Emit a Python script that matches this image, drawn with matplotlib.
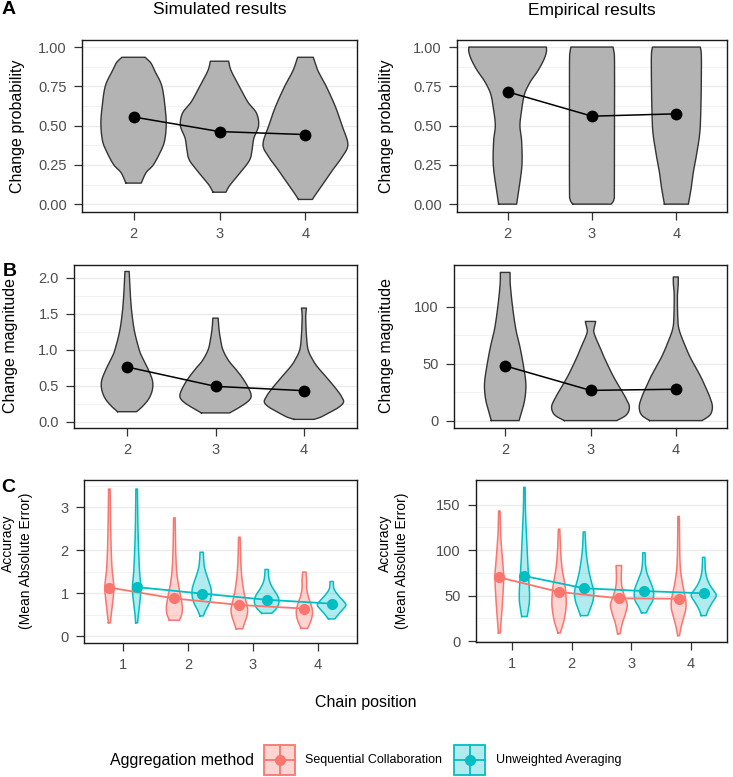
import numpy as np
import matplotlib
matplotlib.use('Agg')
import matplotlib.pyplot as plt
from matplotlib.patches import Rectangle

plt.rcParams['font.family'] = ['Liberation Sans', 'DejaVu Sans']

# ---- data ----
pos_ab = [2, 3, 4]
pos_c = [1, 2, 3, 4]
dodge = 0.21

# A: change probability
sim_prob_mean = [0.555, 0.462, 0.443]
sim_prob_y = [[0.134, 0.20, 0.25, 0.33, 0.40, 0.50, 0.60, 0.75, 0.85, 0.90, 0.935],
              [0.076, 0.12, 0.20, 0.28, 0.35, 0.42, 0.50, 0.58, 0.65, 0.75, 0.85, 0.91],
              [0.03, 0.06, 0.12, 0.22, 0.30, 0.38, 0.50, 0.62, 0.75, 0.85, 0.935]]
sim_prob_w = [[0.09, 0.145, 0.23, 0.31, 0.36, 0.38, 0.37, 0.33, 0.245, 0.20, 0.136],
              [0.075, 0.12, 0.24, 0.35, 0.38, 0.40, 0.455, 0.43, 0.33, 0.23, 0.135, 0.107],
              [0.081, 0.116, 0.194, 0.32, 0.426, 0.494, 0.426, 0.349, 0.242, 0.145, 0.091]]

emp_prob_mean = [0.715, 0.56, 0.575]
emp_prob_y = [[0, 0.1, 0.25, 0.4, 0.5, 0.6, 0.7, 0.78, 0.85, 0.92, 0.97, 1.0],
              [0, 0.03, 0.1, 0.5, 0.9, 0.97, 1.0],
              [0, 0.1, 0.2, 0.3, 0.45, 0.6, 0.8, 0.95, 1.0]]
emp_prob_w = [[0.107, 0.135, 0.17, 0.166, 0.146, 0.166, 0.2, 0.27, 0.36, 0.43, 0.46, 0.46],
              [0.228, 0.26, 0.267, 0.267, 0.267, 0.26, 0.25],
              [0.142, 0.175, 0.2, 0.234, 0.277, 0.29, 0.296, 0.296, 0.283]]

# B: change magnitude
sim_mag_mean = [0.76, 0.49, 0.43]
sim_mag_y = [[0.137, 0.2, 0.3, 0.4, 0.5, 0.6, 0.75, 0.9, 1.0, 1.25, 1.5, 1.75, 2.0, 2.09],
             [0.12, 0.2, 0.28, 0.35, 0.45, 0.6, 0.75, 0.85, 1.0, 1.15, 1.3, 1.44],
             [0.03, 0.06, 0.12, 0.2, 0.27, 0.35, 0.45, 0.6, 0.75, 0.85, 1.0, 1.2, 1.4, 1.5, 1.58]]
sim_mag_w = [[0.107, 0.166, 0.237, 0.277, 0.292, 0.281, 0.23, 0.169, 0.137, 0.085, 0.055, 0.038, 0.028, 0.024],
             [0.16, 0.273, 0.367, 0.403, 0.38, 0.309, 0.215, 0.147, 0.083, 0.056, 0.038, 0.03],
             [0.113, 0.188, 0.282, 0.395, 0.448, 0.424, 0.367, 0.266, 0.16, 0.104, 0.047, 0.028, 0.021, 0.021, 0.028]]

emp_mag_mean = [48, 26.5, 27.5]
emp_mag_y = [[0, 5, 15, 25, 35, 50, 65, 80, 100, 120, 130],
             [0, 5, 12, 20, 30, 40, 55, 65, 72, 78, 82, 87],
             [0, 5, 12, 20, 30, 40, 55, 68, 80, 90, 110, 120, 126]]
emp_mag_w = [[0.163, 0.182, 0.22, 0.24, 0.24, 0.21, 0.172, 0.125, 0.086, 0.059, 0.057],
             [0.307, 0.421, 0.456, 0.412, 0.335, 0.259, 0.163, 0.107, 0.065, 0.038, 0.046, 0.061],
             [0.307, 0.402, 0.429, 0.402, 0.345, 0.282, 0.172, 0.096, 0.038, 0.023, 0.019, 0.029, 0.029]]

# C: accuracy (sequential collaboration / unweighted averaging)
sim_seq_mean = [1.13, 0.875, 0.725, 0.64]
sim_avg_mean = [1.14, 0.99, 0.845, 0.755]
sim_seq_y = [[0.31, 0.45, 0.77, 1.13, 1.52, 1.93, 2.5, 3.0, 3.42],
             [0.37, 0.5, 0.65, 0.8, 1.0, 1.2, 1.5, 2.0, 2.75],
             [0.17, 0.3, 0.45, 0.6, 0.75, 0.9, 1.1, 1.4, 1.8, 2.3],
             [0.18, 0.3, 0.45, 0.6, 0.75, 0.9, 1.1, 1.3, 1.49]]
sim_seq_w = [[0.015, 0.026, 0.05, 0.07, 0.044, 0.03, 0.02, 0.015, 0.012],
             [0.077, 0.113, 0.123, 0.113, 0.087, 0.062, 0.036, 0.02, 0.012],
             [0.05, 0.08, 0.113, 0.128, 0.113, 0.087, 0.062, 0.036, 0.02, 0.012],
             [0.05, 0.087, 0.118, 0.123, 0.1, 0.064, 0.036, 0.036, 0.025]]
sim_avg_y = [[0.31, 0.5, 0.8, 1.13, 1.5, 2.0, 2.5, 3.0, 3.42],
             [0.47, 0.6, 0.75, 0.9, 1.05, 1.2, 1.4, 1.6, 1.8, 1.95],
             [0.53, 0.65, 0.8, 0.95, 1.1, 1.25, 1.4, 1.55],
             [0.40, 0.5, 0.62, 0.72, 0.82, 0.95, 1.1, 1.27]]
sim_avg_w = [[0.015, 0.025, 0.05, 0.065, 0.045, 0.03, 0.02, 0.015, 0.012],
             [0.026, 0.06, 0.113, 0.143, 0.149, 0.128, 0.082, 0.044, 0.03, 0.025],
             [0.077, 0.154, 0.19, 0.164, 0.1, 0.051, 0.03, 0.025],
             [0.05, 0.1, 0.17, 0.22, 0.18, 0.1, 0.036, 0.025]]

emp_seq_mean = [70, 54, 47, 46.5]
emp_avg_mean = [71.5, 58, 55, 52.5]
emp_seq_y = [[9, 30, 50, 70, 80, 100, 120, 143],
             [9, 15, 25, 40, 55, 65, 80, 100, 123],
             [8, 20, 30, 40, 50, 60, 70, 83],
             [6, 15, 25, 35, 45, 55, 65, 80, 100, 137]]
emp_seq_w = [[0.015, 0.04, 0.06, 0.074, 0.065, 0.04, 0.02, 0.012],
             [0.02, 0.05, 0.09, 0.12, 0.11, 0.09, 0.05, 0.025, 0.012],
             [0.02, 0.06, 0.11, 0.14, 0.09, 0.05, 0.04, 0.046],
             [0.015, 0.04, 0.08, 0.12, 0.12, 0.09, 0.06, 0.03, 0.018, 0.012]]
emp_avg_y = [[27, 42, 55, 70, 87, 113, 130, 150, 169],
             [28, 35, 45, 55, 65, 80, 100, 120],
             [31, 38, 45, 55, 65, 75, 85, 97],
             [28, 35, 42, 50, 56, 62, 70, 80, 92]]
emp_avg_w = [[0.046, 0.082, 0.085, 0.071, 0.055, 0.038, 0.025, 0.015, 0.012],
             [0.06, 0.1, 0.15, 0.16, 0.12, 0.07, 0.03, 0.015],
             [0.04, 0.09, 0.15, 0.16, 0.11, 0.05, 0.025, 0.02],
             [0.04, 0.08, 0.14, 0.21, 0.16, 0.1, 0.05, 0.025, 0.02]]

methods = ['Sequential Collaboration', 'Unweighted Averaging']
red, teal = '#F8766D', '#00BFC4'

W, H = 733, 777
fig = plt.figure(figsize=(W / 100, H / 100), dpi=100)


def box(l, r, t, b):
    return [l / W, 1 - b / H, (r - l) / W, (b - t) / H]


def smooth(ys, ws, n=12):
    # catmull-rom through the outline points, only to round the drawn edge
    p = np.column_stack([ys, ws]).astype(float)
    p = np.vstack([p[0], p, p[-1]])
    out = []
    t = np.linspace(0, 1, n, endpoint=False)[:, None]
    for i in range(1, len(p) - 2):
        p0, p1, p2, p3 = p[i - 1], p[i], p[i + 1], p[i + 2]
        seg = 0.5 * (2 * p1 + (-p0 + p2) * t + (2 * p0 - 5 * p1 + 4 * p2 - p3) * t ** 2
                     + (-p0 + 3 * p1 - 3 * p2 + p3) * t ** 3)
        out.append(seg)
    out.append(p[-2][None, :])
    out = np.vstack(out)
    return out[:, 0], np.clip(out[:, 1], 0.004, None)


def violin(ax, x, ys, ws, face, edge, alpha=1.0, lw=1.0):
    ys, ws = smooth(ys, ws)
    xs = np.concatenate([x - ws, (x + ws)[::-1], [x - ws[0]]])
    yy = np.concatenate([ys, ys[::-1], [ys[0]]])
    ax.fill(xs, yy, facecolor=face, edgecolor='none', alpha=alpha, zorder=2)
    ax.plot(xs, yy, color=edge, lw=lw, zorder=3, solid_joinstyle='round')


def style(ax, xticks, xlim, ylim, yticks, ylabels, minor):
    ax.set_xlim(*xlim)
    ax.set_ylim(*ylim)
    ax.set_xticks(xticks)
    ax.set_xticklabels([str(t) for t in xticks])
    ax.set_yticks(yticks)
    ax.set_yticklabels(ylabels)
    ax.set_yticks(minor, minor=True)
    ax.grid(axis='y', which='major', color='#EBEBEB', lw=1.0)
    ax.grid(axis='y', which='minor', color='#F2F2F2', lw=0.7)
    ax.set_axisbelow(True)
    for s in ax.spines.values():
        s.set_color('#1A1A1A')
        s.set_linewidth(1.0)
    ax.tick_params(which='major', length=5.5, width=0.9, color='#333333',
                   labelcolor='#4D4D4D', labelsize=10.5, pad=5.5)
    ax.tick_params(which='minor', length=0)


def ab_panel(rect, means, ys, ws, ylim, yticks, ylabels, minor):
    ax = fig.add_axes(box(*rect))
    for x, y, w in zip(pos_ab, ys, ws):
        violin(ax, x, y, w, '#B3B3B3', '#333333', lw=1.0)
    ax.plot(pos_ab, means, color='black', lw=1.1, zorder=4)
    ax.plot(pos_ab, means, 'o', color='black', ms=7.5, zorder=5)
    style(ax, pos_ab, (1.4, 4.6), ylim, yticks, ylabels, minor)
    return ax


def c_panel(rect, seq_mean, avg_mean, seq_y, seq_w, avg_y, avg_w, ylim, yticks, ylabels, minor):
    ax = fig.add_axes(box(*rect))
    for x, y, w in zip(pos_c, seq_y, seq_w):
        violin(ax, x - dodge, y, w, red, red, alpha=0.3, lw=1.1)
    for x, y, w in zip(pos_c, avg_y, avg_w):
        violin(ax, x + dodge, y, w, teal, teal, alpha=0.3, lw=1.1)
    xs = np.array(pos_c)
    ax.plot(xs - dodge, seq_mean, color=red, lw=1.3, zorder=4)
    ax.plot(xs + dodge, avg_mean, color=teal, lw=1.3, zorder=4)
    ax.plot(xs - dodge, seq_mean, 'o', color=red, ms=7, zorder=5)
    ax.plot(xs + dodge, avg_mean, 'o', color=teal, ms=7, zorder=5)
    style(ax, pos_c, (0.4, 4.6), ylim, yticks, ylabels, minor)
    return ax


ab_panel((82, 357, 40, 212), sim_prob_mean, sim_prob_y, sim_prob_w, (-0.05, 1.045),
         [0, 0.25, 0.5, 0.75, 1.0], ['0.00', '0.25', '0.50', '0.75', '1.00'],
         [0.125, 0.375, 0.625, 0.875])
ab_panel((457, 727, 40, 212), emp_prob_mean, emp_prob_y, emp_prob_w, (-0.05, 1.045),
         [0, 0.25, 0.5, 0.75, 1.0], ['0.00', '0.25', '0.50', '0.75', '1.00'],
         [0.125, 0.375, 0.625, 0.875])
ab_panel((74, 357, 265, 428), sim_mag_mean, sim_mag_y, sim_mag_w, (-0.09, 2.18),
         [0, 0.5, 1.0, 1.5, 2.0], ['0.0', '0.5', '1.0', '1.5', '2.0'],
         [0.25, 0.75, 1.25, 1.75])
ab_panel((454, 727, 265, 428), emp_mag_mean, emp_mag_y, emp_mag_w, (-6.5, 136.5),
         [0, 50, 100], ['0', '50', '100'], [25, 75, 125])
c_panel((84, 357, 480, 643), sim_seq_mean, sim_avg_mean, sim_seq_y, sim_seq_w,
        sim_avg_y, sim_avg_w, (-0.16, 3.63), [0, 1, 2, 3], ['0', '1', '2', '3'],
        [0.5, 1.5, 2.5, 3.5])
c_panel((476, 727, 480, 642), emp_seq_mean, emp_avg_mean, emp_seq_y, emp_seq_w,
        emp_avg_y, emp_avg_w, (-1, 177), [0, 50, 100, 150], ['0', '50', '100', '150'],
        [25, 75, 125, 175])


def ftext(x, y, s, **kw):
    fig.text(x / W, 1 - y / H, s, **kw)


ftext(219.5, 10, 'Simulated results', ha='center', va='center', fontsize=12.5)
ftext(592, 10, 'Empirical results', ha='center', va='center', fontsize=12.5)
for lbl, (x, y) in zip('ABC', [(9, 10), (10, 271), (8, 487)]):
    ftext(x, y, lbl, ha='center', va='center', fontsize=14, fontweight='bold')

ylab = dict(rotation=90, ha='center', va='center', fontsize=11.5)
ftext(18, 126, 'Change probability', **ylab)
ftext(386, 126, 'Change probability', **ylab)
ftext(11, 346, 'Change magnitude', **ylab)
ftext(386, 346, 'Change magnitude', **ylab)
acc = dict(rotation=90, ha='center', va='center', fontsize=10)
ftext(8, 543, 'Accuracy', **acc)
ftext(26, 561, '(Mean Absolute Error)', **acc)
ftext(385, 543, 'Accuracy', **acc)
ftext(402, 561, '(Mean Absolute Error)', **acc)
ftext(366, 703, 'Chain position', ha='center', va='center', fontsize=11.5)

# legend
leg = fig.add_axes([0, 0, 1, 1])
leg.set_xlim(0, W)
leg.set_ylim(H, 0)
leg.axis('off')
ftext(110, 760, 'Aggregation method', ha='left', va='center', fontsize=11.5)
for (kx, tx), name, col in zip([(264, 305), (454, 496)], methods, [red, teal]):
    leg.add_patch(Rectangle((kx, 745), 31, 30, facecolor=col, alpha=0.3, edgecolor='none'))
    leg.add_patch(Rectangle((kx, 745), 31, 30, facecolor='none', edgecolor=col, lw=1.3))
    leg.plot([kx + 15.5, kx + 15.5], [745, 775], color=col, lw=1.3)
    leg.plot([kx, kx + 31], [760, 760], color=col, lw=1.3)
    leg.plot([kx + 15.5], [760], 'o', color=col, ms=7)
    ftext(tx, 760, name, ha='left', va='center', fontsize=9)

fig.savefig('out.png', dpi=100)
